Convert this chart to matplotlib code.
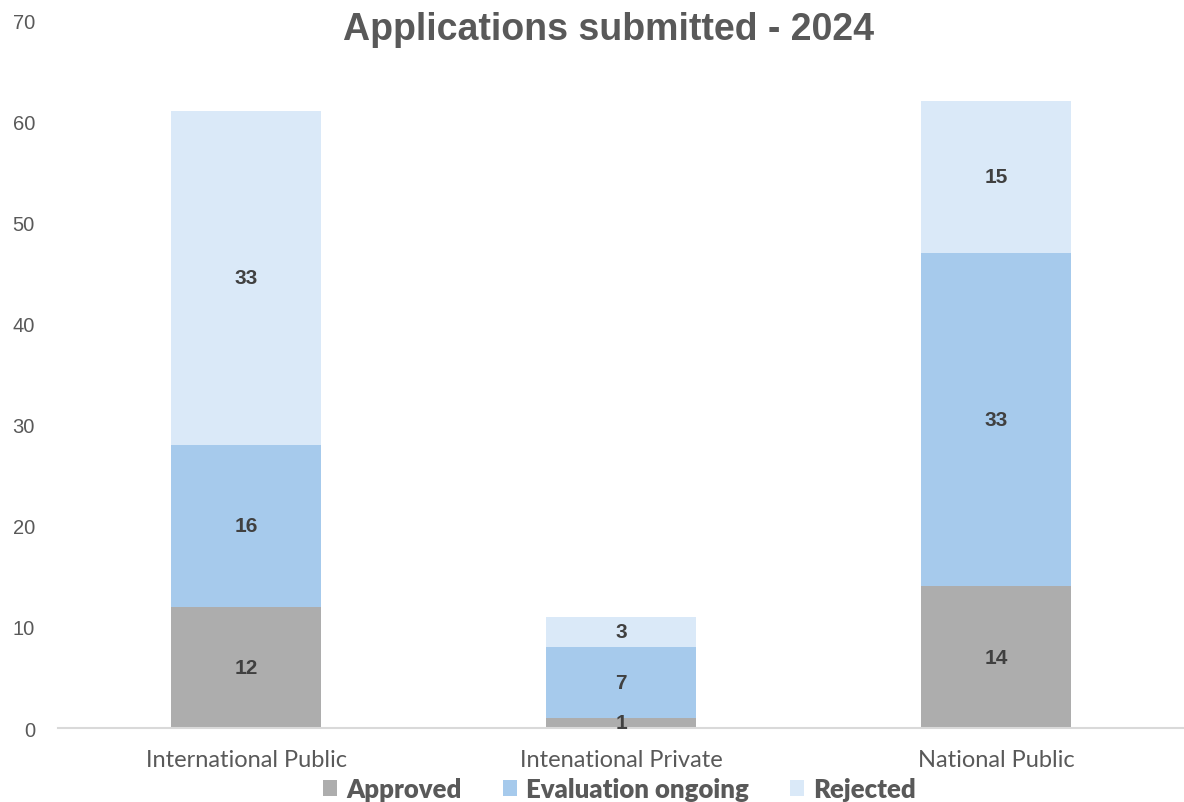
import numpy as np
import matplotlib.pyplot as plt
from matplotlib.patches import Patch

# Chart data
categories = ['International Public', 'Intenational Private', 'National Public']
approved = [12, 1, 14]
evaluation = [16, 7, 33]
rejected = [33, 3, 15]
series_names = ['Approved', 'Evaluation ongoing', 'Rejected']
y_ticks = [0, 10, 20, 30, 40, 50, 60, 70]

colors = ['#ADADAD', '#A6CAEC', '#DAE9F8']
text_grey = '#595959'
label_dark = '#404040'

fig = plt.figure(figsize=(11.84, 8.03), dpi=100)
ax = fig.add_axes([0.0494, 0.0921, 0.9506, 0.8817])

x = np.arange(len(categories))
bottom = np.zeros(len(categories))
for vals, color in zip([approved, evaluation, rejected], colors):
    bars = ax.bar(x, vals, width=0.4, bottom=bottom, color=color, zorder=2)
    for rect, v, b in zip(bars, vals, bottom):
        ax.text(rect.get_x() + rect.get_width() / 2, b + v / 2, str(v),
                ha='center', va='center', fontsize=15, fontweight='bold',
                color=label_dark, family='Liberation Sans', zorder=3)
    bottom += np.array(vals)

ax.set_xlim(-0.5, 2.5)
ax.set_ylim(0, 70)
ax.set_yticks(y_ticks)
ax.set_yticklabels([str(t) for t in y_ticks], family='Liberation Sans',
                   fontsize=14.5, color=text_grey)
ax.set_xticks(x)
ax.set_xticklabels(categories, family='Lato', fontsize=17, color=text_grey)
ax.tick_params(axis='y', length=0, pad=17)
ax.tick_params(axis='x', length=0, pad=15)

for side in ['top', 'right', 'left']:
    ax.spines[side].set_visible(False)
ax.spines['bottom'].set_color('#D9D9D9')
ax.spines['bottom'].set_linewidth(1.5)

fig.text(0.514, 0.963, 'Applications submitted - 2024', ha='center', va='center',
         fontsize=27, fontweight='bold', color=text_grey, family='Liberation Sans')

handles = [Patch(facecolor=c, edgecolor='none') for c in colors]
fig.legend(handles, series_names, loc='center', bbox_to_anchor=(0.523, 0.016),
           ncol=3, frameon=False, handlelength=0.55, handleheight=0.55,
           handletextpad=0.35, columnspacing=1.6,
           prop={'family': 'Lato', 'weight': 'heavy', 'size': 18.5},
           labelcolor=text_grey)

fig.savefig('out.png', dpi=100)
